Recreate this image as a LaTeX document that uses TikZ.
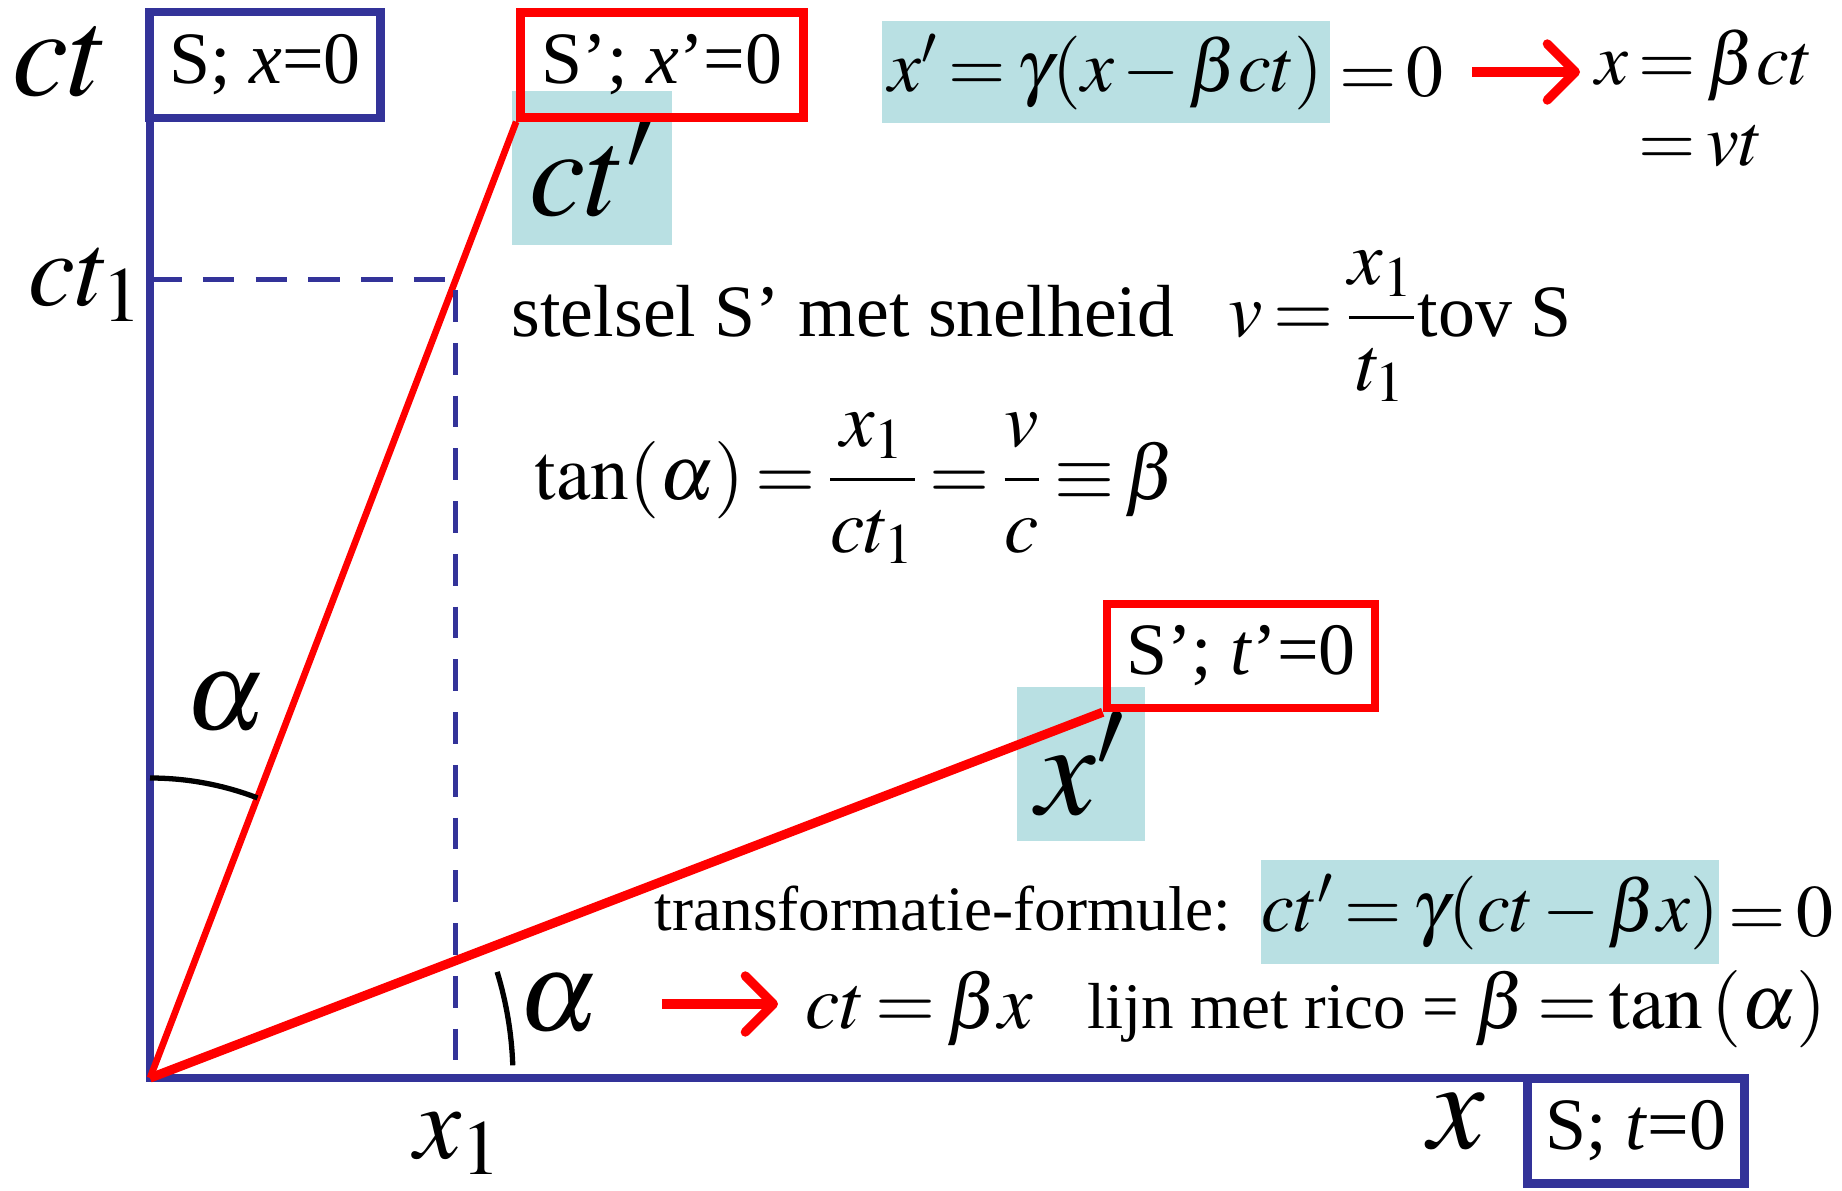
\documentclass[tikz,border=0pt]{standalone}
\usepackage{amsmath}
\usepackage{mathptmx}
\usepackage{fontspec}
\setmainfont{Liberation Serif}
\usetikzlibrary{arrows.meta}
\usetikzlibrary{positioning}
\definecolor{asblauw}{RGB}{51,51,153}
\definecolor{rood}{RGB}{255,0,0}
\definecolor{cyaan}{RGB}{185,224,227}
\newcommand{\fs}[1]{\fontsize{#1}{#1}\selectfont}
% krappe formules zoals in de dia
\thickmuskip=2.5mu plus 1mu
\medmuskip=2mu plus 1mu
\tikzset{
  as/.style={draw=asblauw, line width=2.4pt},
  kader/.style={draw=#1, line width=2.4pt, inner sep=0pt, font=\fs{21}},
  kader/.default=asblauw,
  markeer/.style={fill=cyaan, inner sep=0pt},
  hulplijn/.style={draw=asblauw, line width=1.3pt, dash pattern=on 9pt off 6pt},
  boog/.style={draw=black, line width=1.5pt},
  pijl/.style={draw=rood, line width=2.6pt, -{Straight Barb[length=8pt,width=16pt,round]}},
  wereldlijn/.style={draw=rood, line width=#1},
  tekst/.style={inner sep=0pt, font=\fs{21}},
}

\begin{document}
\begin{tikzpicture}[x=0.01cm, y=-0.01cm]
  \useasboundingbox (0,0) rectangle (1842,1191);
  \coordinate (O) at (150,1078);
  % gemarkeerde vlakken
  \node[markeer, minimum width=1.59cm, minimum height=1.53cm, font=\fs{36}] (ctacc) at (592,168) {$ct'$};
  \node[markeer, minimum width=1.27cm, minimum height=1.54cm, font=\fs{38}] (xacc) at (1081,764) {$x'$};
  \node[markeer, minimum width=4.47cm, minimum height=1.02cm, font=\fs{21}] (formxa) at (1106,72) {$x' = \gamma(x-\beta ct)$};
  \node[markeer, minimum width=4.57cm, minimum height=1.03cm, font=\fs{21}] (formcta) at (1490,912) {$ct' = \gamma(ct-\beta x)$};
  \node[tekst, font=\fs{21}, right=0.08cm of formxa] (nulxa) {$=0$};
  \node[tekst, font=\fs{21}, right=0.08cm of formcta] (nulcta) {$=0$};
  % assen van S
  \node[kader, minimum width=2.31cm, minimum height=1.06cm] (kaderSx) at (265,65) {S; \textit{x}=0};
  \node[kader, minimum width=2.17cm, minimum height=1.05cm] (kaderSt) at (1636,1131) {S; \textit{t}=0};
  \draw[as] (O |- kaderSx.south) -- (O) -- (O -| kaderSt.west);
  % assen van S'
  \node[kader=rood, minimum width=2.83cm, minimum height=1.05cm] (kaderSxa) at (662,65) {S'; \textit{x}'=0};
  \node[kader=rood, minimum width=2.68cm, minimum height=1.04cm] (kaderSta) at (1241,656) {S'; \textit{t}'=0};
  \draw[wereldlijn=1.9pt] (O) -- coordinate[pos=0.835] (P) (kaderSxa.south west);
  \draw[wereldlijn=2.6pt] (O) -- (kaderSta.south west);
  \draw[hulplijn] (O |- P) -- (P) -- (P |- O);
  % hoeken
  \draw[boog] ([shift={(-90:300)}]O) arc[start angle=-90, end angle=-69, radius=300];
  \draw[boog] ([shift={(-2:363)}]O) arc[start angle=-2, end angle=-17, radius=363];
  % labels bij de assen
  \node[tekst, font=\fs{36}] (lblct) at (61,62) {$ct$};
  \node[tekst, font=\fs{30}] (lblct1) at (86,285) {$ct_1$};
  \node[tekst, font=\fs{30}] (lblx1) at (458,1144) {$x_1$};
  \node[tekst, font=\fs{36}] (lblx) at (1457,1122) {$x$};
  \node[tekst, font=\fs{32}] (alfa1) at (226,703) {$\alpha$};
  \node[tekst, font=\fs{32}] (alfa2) at (559,1004) {$\alpha$};
  % uitleg
  \node[tekst, anchor=base west] (stelsel) at (511,337) {stelsel S' met snelheid};
  \node[tekst, anchor=base west, font=\fs{22}] (snelheid) at (1228,337) {$v=\dfrac{x_1}{t_1}$\fs{21}tov S};
  \node[tekst, anchor=base west, font=\fs{22}] (tanalfa) at (534,499) {$\tan(\alpha)=\dfrac{x_1}{ct_1}=\dfrac{v}{c}\equiv\beta$};
  \node[tekst, anchor=base west, font=\fs{18}] (transf) at (654,930) {transformatie-formule:};
  \node[tekst, anchor=base west, font=\fs{22}] (ctbx) at (805,1028) {$ct=\beta x$};
  \node[tekst, anchor=base west, font=\fs{18.5}] (rico) at (1087,1028) {lijn met rico = \fs{22}$\beta=\tan\,(\alpha)$};
  \node[tekst, anchor=west, font=\fs{21}] (gevolgx) at (1595,109) {$\begin{aligned} x &= \beta ct\\[-1pt] &= vt\end{aligned}$};
  \draw[pijl, shorten <=0.28cm, shorten >=0.15cm] (nulxa.east) -- (nulxa.east -| gevolgx.west);
  \draw[pijl, shorten <=0.62cm, shorten >=0.27cm] (alfa2.east) -- (alfa2.east -| ctbx.west);
\end{tikzpicture}
\end{document}
